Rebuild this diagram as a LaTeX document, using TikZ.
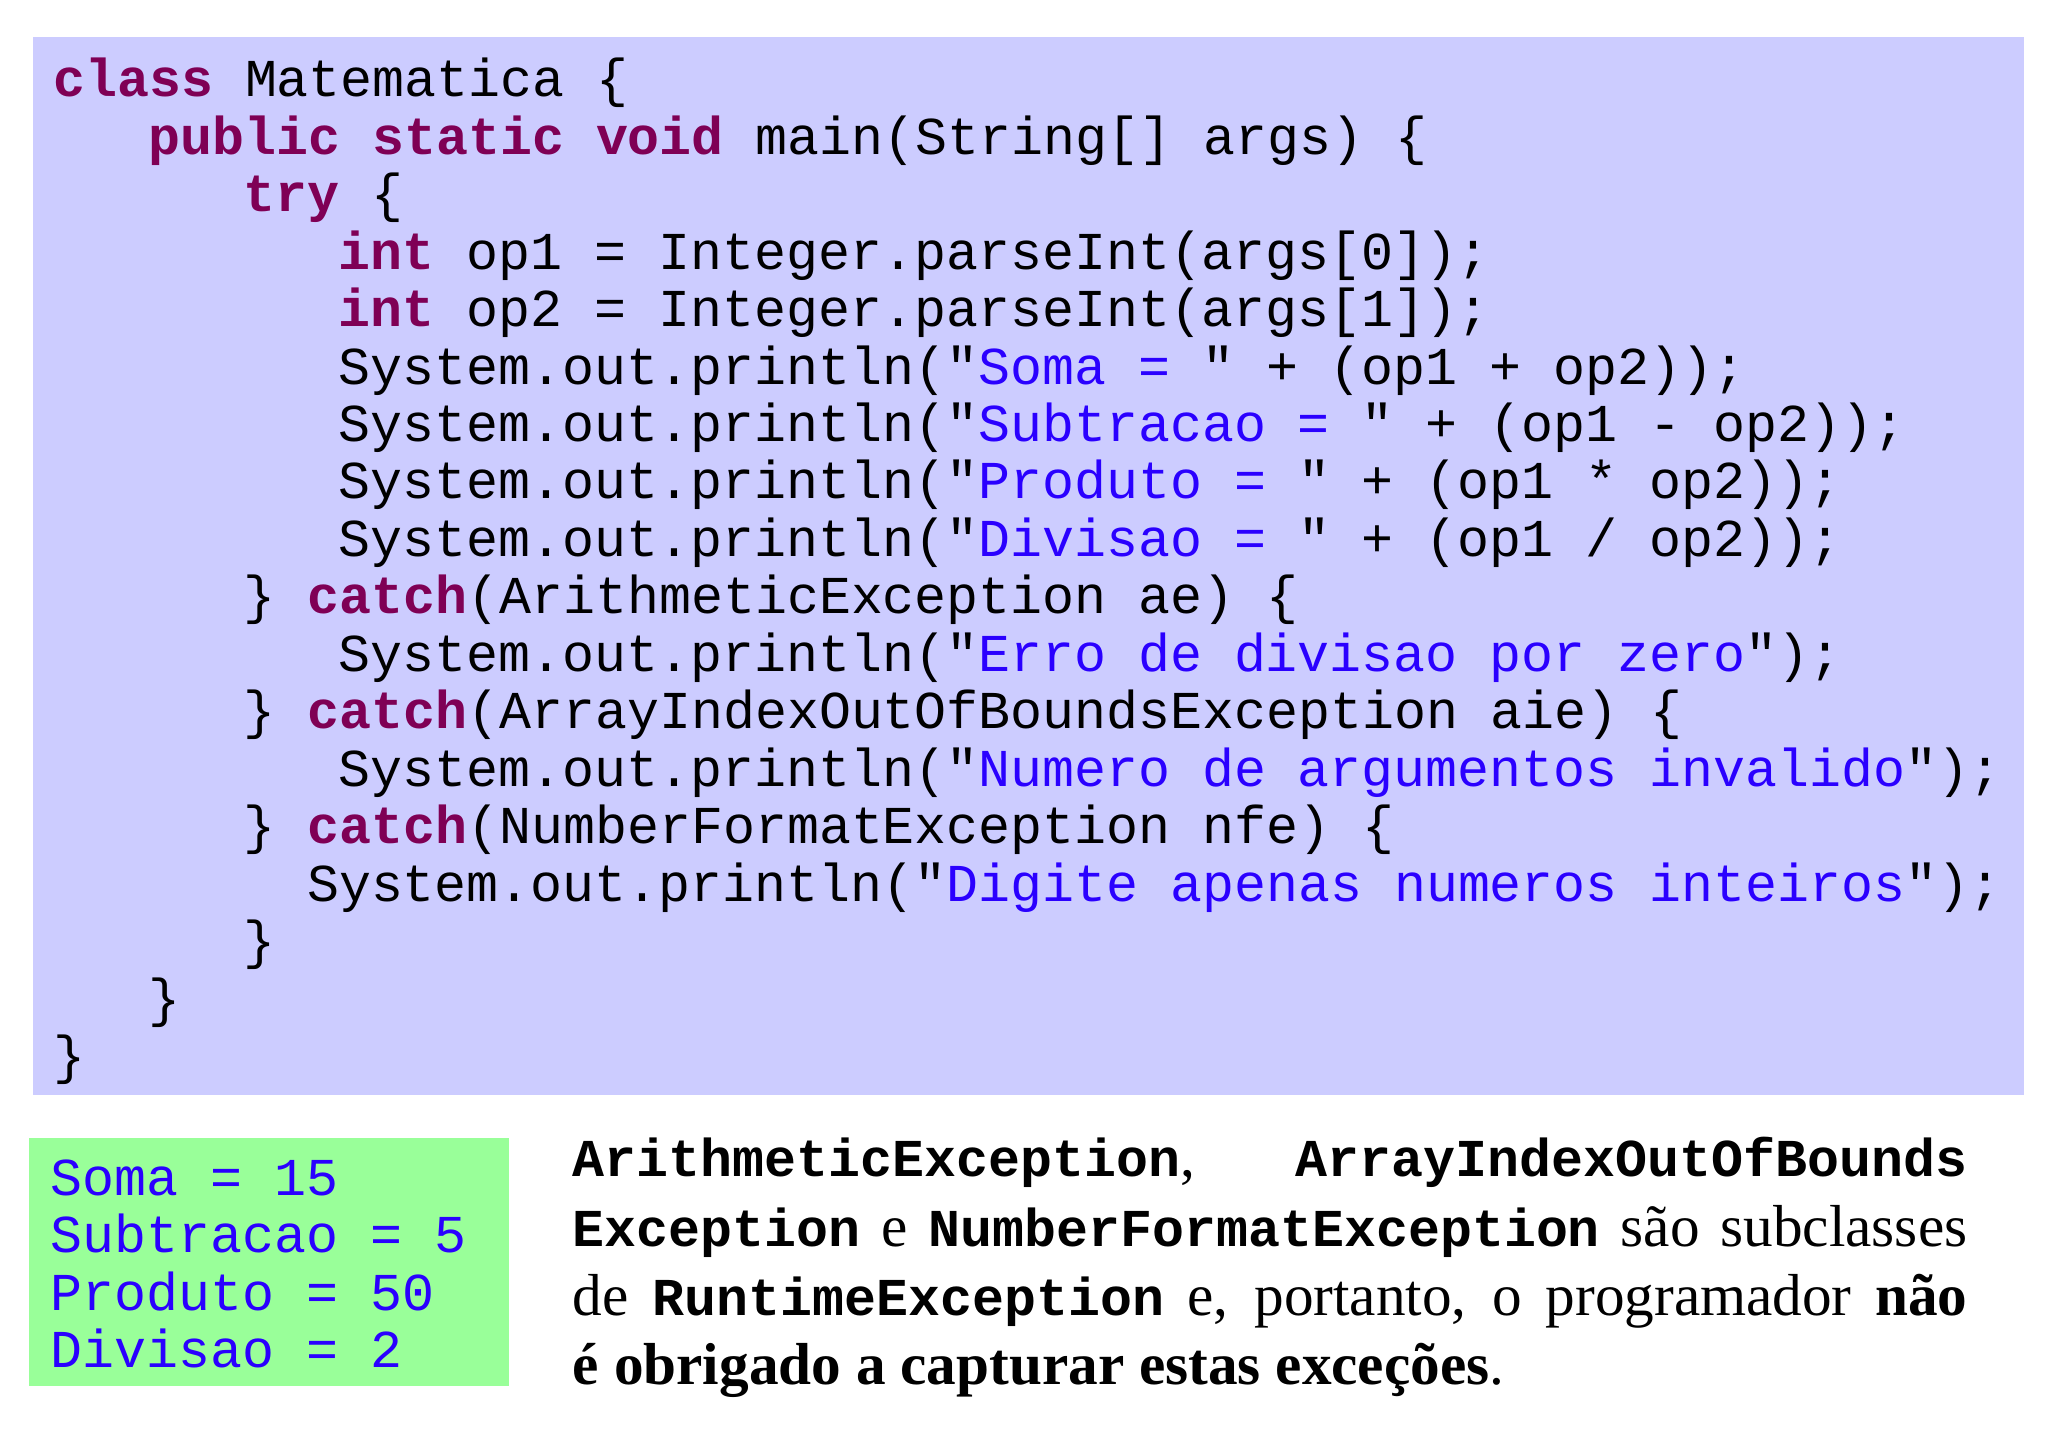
\documentclass[tikz,border=0pt]{standalone}
\usepackage{fontspec}
\setmainfont{Liberation Serif}
\setmonofont{Liberation Mono}
\definecolor{codebg}{RGB}{204,204,255}
\definecolor{outbg}{RGB}{153,255,153}
\definecolor{kwc}{RGB}{127,0,85}
\definecolor{strc}{RGB}{42,0,255}
\newcommand{\kw}[1]{{\bfseries\color{kwc}#1}}
\newcommand{\st}[1]{{\color{strc}#1}}
\newcommand{\pmono}[1]{{\ttfamily\bfseries\fontsize{11.6}{15.2}\selectfont #1}}
\begin{document}
\begin{tikzpicture}[x=0.01cm,y=-0.01cm,
  cl/.style={anchor=base west,inner sep=0pt,font=\ttfamily\fontsize{11.6}{13}\selectfont}]
\useasboundingbox (0,0) rectangle (1568,1108);
\fill[codebg] (25,28) rectangle (1550,838);
\fill[outbg] (22,871) rectangle (390,1061);
\def\cw{24.3}
\node[cl] (l0) at (40,74) {\kw{class} Matematica \{};
\node[cl] (l1) at (40+3*\cw,118) {\kw{public} \kw{static} \kw{void} main(String[] args) \{};
\node[cl] (l2) at (40+6*\cw,162) {\kw{try} \{};
\node[cl] (l3) at (40+9*\cw,206) {\kw{int} op1 = Integer.parseInt(args[0]);};
\node[cl] (l4) at (40+9*\cw,250) {\kw{int} op2 = Integer.parseInt(args[1]);};
\node[cl] (l5) at (40+9*\cw,294) {System.out.println("\st{Soma = }" + (op1 + op2));};
\node[cl] (l6) at (40+9*\cw,338) {System.out.println("\st{Subtracao = }" + (op1 - op2));};
\node[cl] (l7) at (40+9*\cw,382) {System.out.println("\st{Produto = }" + (op1 * op2));};
\node[cl] (l8) at (40+9*\cw,426) {System.out.println("\st{Divisao = }" + (op1 / op2));};
\node[cl] (l9) at (40+6*\cw,470) {\} \kw{catch}(ArithmeticException ae) \{};
\node[cl] (l10) at (40+9*\cw,514) {System.out.println("\st{Erro de divisao por zero}");};
\node[cl] (l11) at (40+6*\cw,558) {\} \kw{catch}(ArrayIndexOutOfBoundsException aie) \{};
\node[cl] (l12) at (40+9*\cw,602) {System.out.println("\st{Numero de argumentos invalido}");};
\node[cl] (l13) at (40+6*\cw,646) {\} \kw{catch}(NumberFormatException nfe) \{};
\node[cl] (l14) at (40+8*\cw,690) {System.out.println("\st{Digite apenas numeros inteiros}");};
\node[cl] (l15) at (40+6*\cw,734) {\}};
\node[cl] (l16) at (40+3*\cw,778) {\}};
\node[cl] (l17) at (40,822) {\}};
\node[cl,text=strc] (o1) at (38,915) {Soma = 15};
\node[cl,text=strc] (o2) at (38,959) {Subtracao = 5};
\node[cl,text=strc] (o3) at (38,1003) {Produto = 50};
\node[cl,text=strc] (o4) at (38,1047) {Divisao = 2};
\node[anchor=base west,inner sep=0pt] (p) at (438,901) {\parbox[t]{10.67cm}{\fontsize{12.9}{15.1}\selectfont\hyphenpenalty=10000
\pmono{ArithmeticException},\hfill\pmono{ArrayIndexOutOfBounds}\\
\pmono{Exception} e \pmono{NumberFormatException} são subclasses\linebreak
de \pmono{RuntimeException} e, portanto, o programador \textbf{não}\linebreak
\textbf{é obrigado a capturar estas exceções}.}};
\end{tikzpicture}
\end{document}
